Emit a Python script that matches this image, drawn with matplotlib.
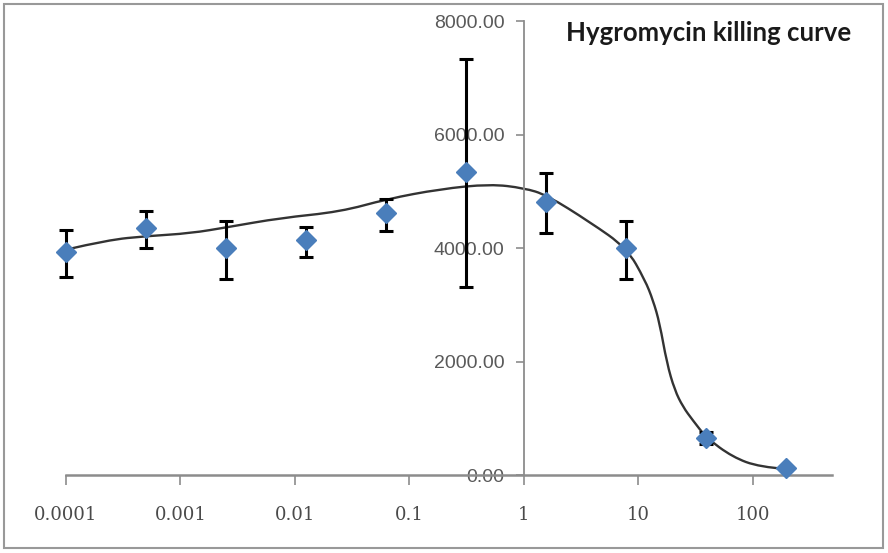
import matplotlib
matplotlib.use('Agg')
import matplotlib.pyplot as plt
import numpy as np
from matplotlib.patches import Rectangle, PathPatch
from matplotlib.path import Path

# concentrations (5-fold dilutions) and mean counts
conc = [0.0001, 0.0005, 0.0025, 0.0125, 0.0625, 0.3125, 1.5625, 7.8125, 39.0625, 195.3125]
media = [3935, 4347, 3994, 4141, 4611, 5339, 4816, 3994, 652, 118]
err_top = [4317, 4657, 4481, 4375, 4863, 7325, 5316, 4475, 763, 150]
err_bottom = [3494, 4005, 3448, 3846, 4305, 3307, 4269, 3453, 540, 90]

# fitted curve
curva_x = [0.000103, 0.00023, 0.000513, 0.00122, 0.00262, 0.00746, 0.0249, 0.0635,
           0.185, 0.506, 1.0, 1.58, 3.76, 7.91, 11.4, 13.4, 15.3, 17.7, 20.7, 24.5,
           29.7, 39.4, 66.4, 114, 196]
curva_y = [3977, 4141, 4211, 4259, 4370, 4529, 4639, 4863,
           5039, 5127, 5057, 4934, 4458, 4000, 3436, 3080, 2678, 1973, 1498, 1200,
           969, 652, 317, 141, 106]

y_ticks = [0, 2000, 4000, 6000, 8000]
x_ticks = [0.0001, 0.001, 0.01, 0.1, 1, 10, 100]
x_labels = ['0.0001', '0.001', '0.01', '0.1', '1', '10', '100']

fig = plt.figure(figsize=(8.88, 5.53), dpi=100)
ax = fig.add_axes([0.0743, 0.141, 0.8626, 0.821])

ax.set_xscale('log')
ax.set_xlim(1e-4, 10 ** 2.69)
ax.set_ylim(0, 8000)

# smooth curve: read points used as quadratic control points (drawn in display space)
pts = ax.transData.transform(np.column_stack([curva_x, curva_y]))
verts = [pts[0]]
codes = [Path.MOVETO]
for i in range(1, len(pts) - 1):
    mid = (pts[i] + pts[i + 1]) / 2 if i < len(pts) - 2 else pts[i + 1]
    verts += [pts[i], mid]
    codes += [Path.CURVE3, Path.CURVE3]
curva = PathPatch(Path(verts, codes), transform=None, fill=False,
                  edgecolor='#333333', linewidth=1.7, zorder=2)
ax.add_artist(curva)

low = [m - b for m, b in zip(media, err_bottom)]
high = [t - m for m, t in zip(media, err_top)]
eb = ax.errorbar(conc, media, yerr=[low, high], fmt='none', ecolor='black',
                 elinewidth=2.2, capsize=5, capthick=2.2, zorder=3)
for art in eb.lines[1] + eb.lines[2]:
    art.set_clip_on(False)
ax.plot(conc, media, linestyle='none', marker='D', markersize=10,
        color='#4A7EBB', markeredgecolor='#4A7EBB', zorder=4, clip_on=False)

ax.spines['top'].set_visible(False)
ax.spines['right'].set_visible(False)
ax.spines['left'].set_position(('data', 1))
ax.spines['left'].set_color('#8c8c8c')
ax.spines['left'].set_linewidth(1.3)
ax.spines['bottom'].set_color('#8c8c8c')
ax.spines['bottom'].set_linewidth(1.8)

ax.set_yticks(y_ticks)
ax.set_yticklabels([f'{v:.2f}' for v in y_ticks])
ax.set_xticks(x_ticks)
ax.set_xticklabels(x_labels)
ax.xaxis.set_minor_locator(matplotlib.ticker.NullLocator())
ax.tick_params(axis='y', direction='out', length=6, width=1.2, color='#8c8c8c',
               labelsize=14, labelcolor='#595959', pad=8)
ax.tick_params(axis='x', direction='out', length=7, width=1.2, color='#8c8c8c',
               labelsize=13, labelcolor='#4a4a4a', pad=15)
for lbl in ax.get_xticklabels():
    lbl.set_family('DejaVu Serif')
for lbl in ax.get_yticklabels():
    lbl.set_family('Liberation Sans')

fig.text(0.958, 0.940, 'Hygromycin killing curve', ha='right', va='center',
         fontsize=18.5, fontweight='bold', family='Lato', color='#1a1a1a')

fig.patches.append(Rectangle((0.004, 0.009), 0.99, 0.983, transform=fig.transFigure,
                             fill=False, edgecolor='#999999', linewidth=1.5))

fig.savefig('out.png', dpi=100)
